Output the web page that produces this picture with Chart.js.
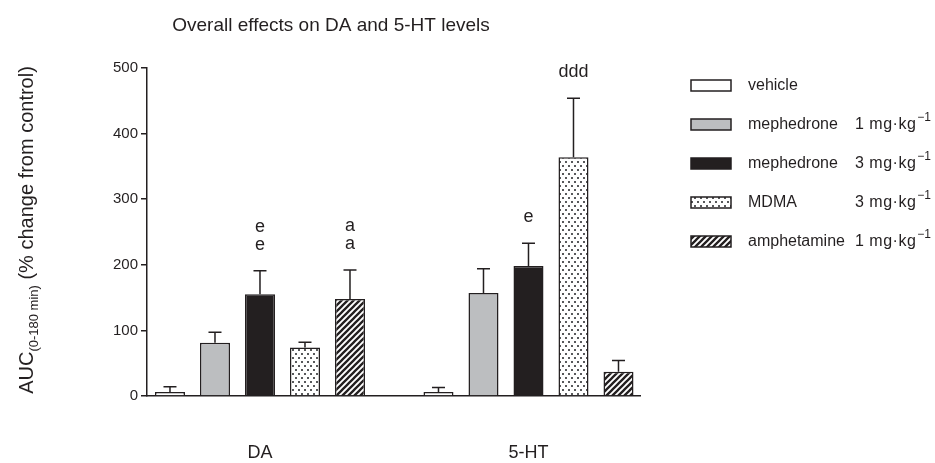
<!DOCTYPE html>
<html>
<head>
<meta charset="utf-8">
<script src="https://cdn.jsdelivr.net/npm/chart.js@4.4.0/dist/chart.umd.min.js"></script>
<style>
  html, body { margin: 0; padding: 0; background: #fff; }
  #wrap { width: 935px; height: 463px; position: relative; }
</style>
</head>
<body>
<div id="wrap"><canvas id="chart"></canvas></div>
<script>
// data
const categories = ['DA', '5-HT'];
const treatments = ['vehicle', 'mephedrone', 'mephedrone', 'MDMA', 'amphetamine'];
const doses = ['', '1 mg·kg', '3 mg·kg', '3 mg·kg', '1 mg·kg'];
const vehicle = [6, 6];
const mephedrone1 = [81, 157];
const mephedrone3 = [155, 198];
const mdma = [74, 364];
const amphetamine = [148, 37];
// upper SEM
const vehicleErr = [8, 7];
const mephedrone1Err = [16, 37];
const mephedrone3Err = [36, 35];
const mdmaErr = [8, 90];
const amphetamineErr = [44, 17];
// significance letters above each bar
const marks = [
  [[], []],
  [[], []],
  [['e', 'e'], ['e']],
  [[], ['ddd']],
  [['a', 'a'], []]
];
const yTicks = [0, 100, 200, 300, 400, 500];

const INK = '#231f20';
const FONT = '"Liberation Sans", Arial, sans-serif';

function dotPattern() {
  const c = document.createElement('canvas');
  c.width = 6; c.height = 8;
  const g = c.getContext('2d');
  g.fillStyle = '#fff';
  g.fillRect(0, 0, 6, 8);
  g.fillStyle = '#58595b';
  g.fillRect(1, 1, 2, 2);
  g.fillRect(4, 5, 2, 2);
  return g.createPattern(c, 'repeat');
}

function hatchPattern() {
  const c = document.createElement('canvas');
  c.width = 6; c.height = 6;
  const g = c.getContext('2d');
  g.fillStyle = '#fff';
  g.fillRect(0, 0, 6, 6);
  g.strokeStyle = INK;
  g.lineWidth = 2.3;
  g.beginPath();
  g.moveTo(-1, 7); g.lineTo(7, -1);
  g.moveTo(-4, 4); g.lineTo(4, -4);
  g.moveTo(2, 10); g.lineTo(10, 2);
  g.stroke();
  return g.createPattern(c, 'repeat');
}

const fills = ['#ffffff', '#bcbec0', INK, dotPattern(), hatchPattern()];
const series = [vehicle, mephedrone1, mephedrone3, mdma, amphetamine];
const errors = [vehicleErr, mephedrone1Err, mephedrone3Err, mdmaErr, amphetamineErr];

const datasets = series.map((vals, k) => ({
  label: treatments[k] + (doses[k] ? ' ' + doses[k] : ''),
  data: vals.map((v, i) => ({ x: i + 1, y: v })),
  err: errors[k],
  marks: marks[k],
  backgroundColor: fills[k],
  borderColor: INK,
  borderWidth: 1.5,
  categoryPercentage: 0.838,
  barPercentage: 0.667
}));

// error bars, letters, title, y title and legend
const extras = {
  id: 'extras',
  afterDatasetsDraw(chart) {
    const ctx = chart.ctx;
    const y = chart.scales.y;
    ctx.save();
    ctx.strokeStyle = INK;
    ctx.lineWidth = 1.5;
    ctx.fillStyle = INK;
    ctx.font = '18px ' + FONT;
    ctx.textAlign = 'center';
    ctx.textBaseline = 'alphabetic';
    chart.data.datasets.forEach((ds, di) => {
      chart.getDatasetMeta(di).data.forEach((bar, i) => {
        const top = y.getPixelForValue(ds.data[i].y + ds.err[i]);
        ctx.beginPath();
        ctx.moveTo(bar.x, bar.y);
        ctx.lineTo(bar.x, top);
        ctx.moveTo(bar.x - 6.5, top);
        ctx.lineTo(bar.x + 6.5, top);
        ctx.stroke();
        const m = ds.marks[i];
        m.forEach((txt, j) => {
          ctx.fillText(txt, bar.x, top - 21 - (m.length - 1 - j) * 18);
        });
      });
    });
    ctx.restore();
  },
  afterDraw(chart) {
    const ctx = chart.ctx;
    ctx.save();
    ctx.fillStyle = INK;

    // title
    ctx.font = '19px ' + FONT;
    ctx.textAlign = 'center';
    ctx.textBaseline = 'alphabetic';
    ctx.fillText('Overall effects on DA and 5-HT levels', 331, 31);

    // y axis title with subscript
    ctx.translate(33, 230);
    ctx.rotate(-Math.PI / 2);
    ctx.textAlign = 'left';
    const parts = [['AUC', 20, 0], ['(0-180 min)', 13, 5], [' (% change from control)', 20, 0]];
    let total = 0;
    parts.forEach(p => { ctx.font = p[1] + 'px ' + FONT; total += ctx.measureText(p[0]).width; });
    let x = -total / 2;
    parts.forEach(p => {
      ctx.font = p[1] + 'px ' + FONT;
      ctx.fillText(p[0], x, p[2]);
      x += ctx.measureText(p[0]).width;
    });
    ctx.setTransform(1, 0, 0, 1, 0, 0);

    // legend
    ctx.textBaseline = 'middle';
    chart.data.datasets.forEach((ds, k) => {
      const cy = 85.5 + k * 39;
      ctx.fillStyle = ds.backgroundColor;
      ctx.fillRect(691, cy - 5.5, 40, 11);
      ctx.strokeStyle = INK;
      ctx.lineWidth = 1.5;
      ctx.strokeRect(691, cy - 5.5, 40, 11);
      ctx.fillStyle = INK;
      ctx.font = '16px ' + FONT;
      ctx.letterSpacing = '0px';
      ctx.fillText(treatments[k], 748, cy);
      if (doses[k]) {
        ctx.letterSpacing = '0.5px';
        ctx.fillText(doses[k], 855, cy);
        const w = ctx.measureText(doses[k]).width;
        ctx.letterSpacing = '0px';
        ctx.font = '12px ' + FONT;
        ctx.fillText('\u22121', 855 + w + 1, cy - 7);
      }
    });
    ctx.restore();
  }
};

new Chart(document.getElementById('chart'), {
  type: 'bar',
  data: { datasets },
  options: {
    responsive: true,
    maintainAspectRatio: false,
    animation: false,
    layout: { padding: { top: 68, right: 295, bottom: 0, left: 0 } },
    plugins: {
      legend: { display: false },
      title: { display: false },
      tooltip: { enabled: false }
    },
    scales: {
      x: {
        type: 'linear',
        offset: false,
        min: 0.5792,
        max: 2.4153,
        afterBuildTicks: axis => { axis.ticks = categories.map((c, i) => ({ value: i + 1 })); },
        afterFit: axis => { axis.height = 67; },
        grid: { display: true, drawOnChartArea: false, drawTicks: false },
        border: { display: true, color: INK, width: 1.5 },
        ticks: {
          padding: 46,
          color: INK,
          font: { family: FONT, size: 18 },
          callback: v => categories[v - 1]
        }
      },
      y: {
        min: 0,
        max: 500,
        afterBuildTicks: axis => { axis.ticks = yTicks.map(v => ({ value: v })); },
        afterFit: axis => { axis.width = 147; },
        grid: { drawOnChartArea: false, drawTicks: true, tickLength: 6, color: INK, lineWidth: 1.5 },
        border: { display: true, color: INK, width: 1.5 },
        ticks: { padding: 3, color: INK, font: { family: FONT, size: 15 } }
      }
    }
  },
  plugins: [extras]
});
</script>
</body>
</html>
